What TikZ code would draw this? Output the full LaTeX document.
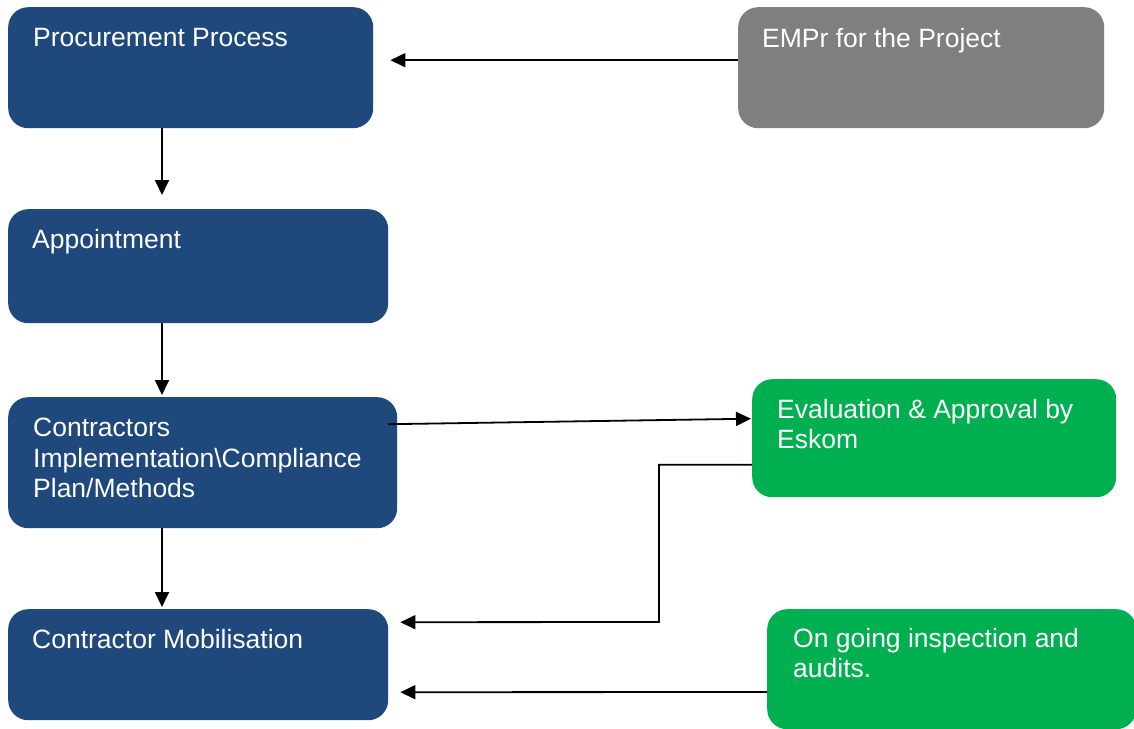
\documentclass[tikz,border=0pt]{standalone}
\usepackage{fontspec}
\setmainfont{Liberation Sans}
\usetikzlibrary{arrows.meta}
\definecolor{navy}{HTML}{1F497D}
\definecolor{grn}{HTML}{00B050}
\definecolor{gry}{HTML}{7F7F7F}
\begin{document}
\begin{tikzpicture}[x=1pt,y=-1pt,
  box/.style={draw=none, rounded corners=20pt, anchor=north west, inner sep=0pt},
  lbl/.style={anchor=north west, inner sep=0pt, text=white, align=left,
    font=\fontsize{26.5}{30.5}\selectfont},
  arr/.style={line width=1.8pt, -{Triangle[length=15pt,width=14pt]}}]
\useasboundingbox (0,0) rectangle (1134,728);
% boxes
\node[box, fill=navy, minimum width=365pt, minimum height=121pt] (p) at (8,7) {};
\node[box, fill=gry,  minimum width=366pt, minimum height=121pt] (e) at (738,7) {};
\node[box, fill=navy, minimum width=380pt, minimum height=114pt] (a) at (8,209) {};
\node[box, fill=navy, minimum width=389pt, minimum height=131pt] (c) at (8,397) {};
\node[box, fill=grn,  minimum width=364pt, minimum height=118pt] (v) at (752,379) {};
\node[box, fill=navy, minimum width=380pt, minimum height=111pt] (m) at (8,609) {};
\node[box, fill=grn,  minimum width=369pt, minimum height=120pt] (o) at (767,609) {};
% texts
\node[lbl] (pt) at (33,28.5) {Procurement Process};
\node[lbl] (et) at (762,28.5) {EMPr for the Project};
\node[lbl] (at) at (32,229) {Appointment};
\node[lbl] (ct) at (33,418) {Contractors\\Implementation\textbackslash Compliance\\Plan/Methods};
\node[lbl] (vt) at (777,399) {Evaluation \& Approval by\\Eskom};
\node[lbl] (mt) at (32,629) {Contractor Mobilisation};
\node[lbl] (ot) at (793,628) {On going inspection and\\audits.};
% connectors
\draw[arr] ([yshift=7.5pt]e.west) -- ([xshift=17pt,yshift=7.5pt]p.east);
\draw[arr] ([xshift=154pt]p.south west) -- ([xshift=154pt,yshift=14pt]a.north west);
\draw[arr] ([xshift=154pt]a.south west) -- ([xshift=154pt,yshift=2pt]c.north west);
\draw[arr] ([xshift=154pt]c.south west) -- ([xshift=154pt,yshift=2pt]m.north west);
\draw[arr] ([xshift=-9pt,yshift=38.5pt]c.east) -- ([xshift=-1pt,yshift=19.5pt]v.west);
\coordinate (k) at (659,622);
\draw[arr] ([yshift=-26.5pt]v.west) -| (k) -- ([xshift=12pt,yshift=42.5pt]m.east);
\draw[arr] ([yshift=-83pt]o.north west) -- ([xshift=12pt,yshift=-27.5pt]m.east);
\end{tikzpicture}
\end{document}
